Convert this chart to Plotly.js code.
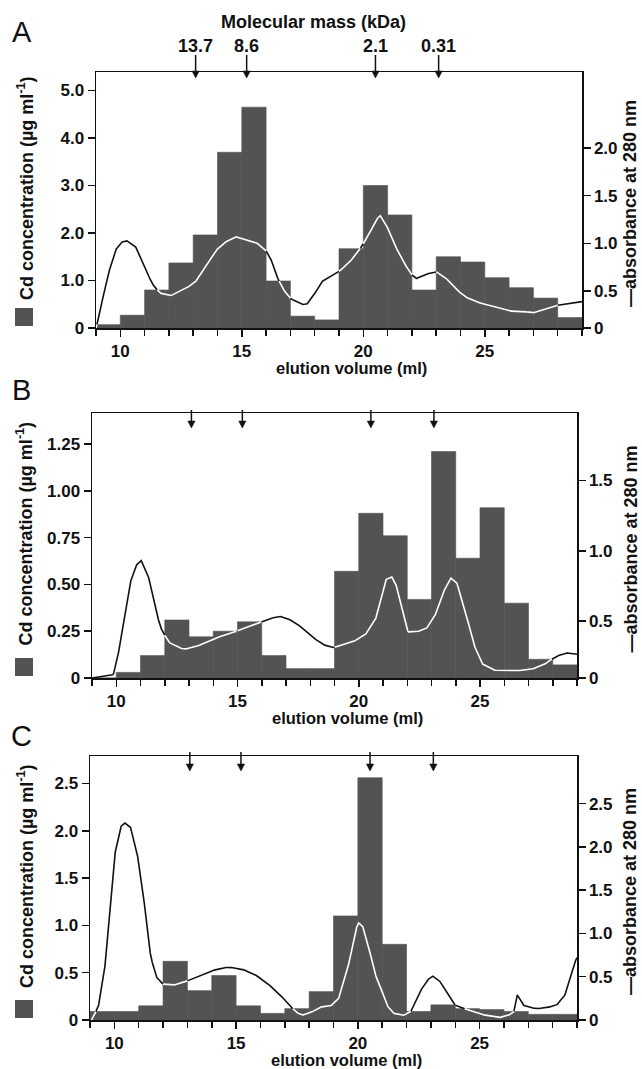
<!DOCTYPE html>
<html>
<head>
<meta charset="utf-8">
<script src="https://cdn.plot.ly/plotly-3.0.1.min.js"></script>
<style>html,body{margin:0;padding:0;background:#fff;}#chart{width:642px;height:1069px;}</style>
</head>
<body>
<div id="chart"></div>
<script>
// ---------------- DATA ----------------
const binCenters = [9.5,10.5,11.5,12.5,13.5,14.5,15.5,16.5,17.5,18.5,19.5,20.5,21.5,22.5,23.5,24.5,25.5,26.5,27.5,28.5];

const cdA = [0.07,0.27,0.80,1.37,1.96,3.70,4.65,0.99,0.25,0.17,1.67,3.00,2.38,0.80,1.50,1.39,1.06,0.85,0.63,0.22];
const cdB = [0.00,0.03,0.12,0.31,0.22,0.25,0.30,0.12,0.05,0.05,0.57,0.88,0.76,0.42,1.21,0.64,0.91,0.40,0.10,0.07];
const cdC = [0.09,0.09,0.15,0.62,0.31,0.47,0.15,0.07,0.12,0.30,1.10,2.56,0.80,0.09,0.16,0.12,0.11,0.09,0.06,0.06];

const absA_x = [9.0,9.19,9.44,9.78,10.03,10.25,10.62,10.96,11.30,11.63,12.06,12.65,13.07,13.49,13.91,14.30,14.75,15.17,15.59,15.98,16.18,16.38,16.69,17.02,17.45,17.67,17.95,18.29,18.63,19.02,19.39,19.81,20.23,20.53,20.70,20.94,21.24,21.66,22.00,22.17,22.59,23.01,23.35,23.77,24.19,24.61,25.03,25.54,26.04,26.55,26.97,27.48,27.98,28.49,29.0];
const absA_y = [0.11,0.31,0.62,0.92,1.01,1.03,0.97,0.79,0.58,0.48,0.45,0.52,0.59,0.74,0.92,1.01,1.07,1.04,1.01,0.93,0.85,0.69,0.52,0.42,0.36,0.36,0.45,0.60,0.65,0.71,0.79,0.92,1.09,1.25,1.29,1.20,1.01,0.80,0.67,0.63,0.68,0.70,0.65,0.53,0.44,0.39,0.36,0.32,0.29,0.29,0.27,0.31,0.35,0.37,0.39];

const absB_x = [9.0,9.62,9.88,10.05,10.30,10.55,10.81,11.03,11.31,11.56,11.82,12.16,12.58,12.83,13.25,13.76,14.27,14.77,15.28,15.78,16.29,16.71,17.05,17.47,17.98,18.49,18.91,19.33,19.84,20.26,20.68,20.93,21.10,21.35,21.52,21.78,22.03,22.37,22.79,23.13,23.46,23.80,24.05,24.39,24.73,25.07,25.57,26.42,27.09,27.60,28.10,28.53,29.0];
const absB_y = [0.095,0.108,0.120,0.230,0.495,0.760,0.895,0.930,0.830,0.630,0.455,0.350,0.310,0.300,0.315,0.355,0.390,0.415,0.450,0.480,0.515,0.535,0.520,0.480,0.400,0.335,0.310,0.330,0.360,0.400,0.507,0.650,0.793,0.817,0.769,0.602,0.423,0.423,0.447,0.531,0.698,0.805,0.769,0.579,0.340,0.198,0.150,0.145,0.155,0.186,0.245,0.274,0.264];

const absC_x = [9.06,9.34,9.59,9.78,10.0,10.25,10.41,10.66,10.91,11.16,11.33,11.49,11.71,11.99,12.40,12.90,13.40,13.90,14.39,14.72,15.22,15.72,16.22,16.71,17.13,17.46,17.71,18.04,18.45,18.87,19.20,19.45,19.70,19.90,20.03,20.19,20.44,20.69,20.94,21.19,21.44,21.85,22.18,22.51,22.85,23.06,23.34,23.67,24.0,24.5,25.0,25.5,25.83,26.16,26.40,26.55,26.65,26.80,27.0,27.32,27.74,28.15,28.48,28.73,28.85,29.0];
const absC_y = [0.0,0.15,0.54,1.19,1.89,2.23,2.28,2.23,1.97,1.53,1.09,0.74,0.50,0.415,0.40,0.44,0.50,0.56,0.60,0.61,0.59,0.535,0.44,0.32,0.19,0.09,0.055,0.08,0.15,0.16,0.24,0.46,0.73,1.04,1.12,1.09,0.85,0.54,0.38,0.17,0.08,0.05,0.10,0.31,0.46,0.51,0.46,0.31,0.17,0.12,0.07,0.04,0.03,0.05,0.09,0.29,0.24,0.17,0.15,0.13,0.14,0.17,0.27,0.50,0.63,0.72];

const markerVolumes = [13.1, 15.2, 20.5, 23.1];
const markerMasses = ['13.7', '8.6', '2.1', '0.31'];

const xTickVals = [10, 15, 20, 25];
const leftTickValsA = [0, 1, 2, 3, 4, 5];
const leftTickTextA = ['0', '1.0', '2.0', '3.0', '4.0', '5.0'];
const leftTickValsB = [0, 0.25, 0.5, 0.75, 1.0, 1.25];
const leftTickTextB = ['0', '0.25', '0.50', '0.75', '1.00', '1.25'];
const leftTickValsC = [0, 0.5, 1.0, 1.5, 2.0, 2.5];
const leftTickTextC = ['0', '0.5', '1.0', '1.5', '2.0', '2.5'];
const rightTickValsA = [0.113, 0.5, 1.0, 1.5, 2.0];
const rightTickTextA = ['0', '0.5', '1.0', '1.5', '2.0'];
const rightTickValsB = [0.095, 0.5, 1.0, 1.5];
const rightTickTextB = ['0', '0.5', '1.0', '1.5'];
const rightTickValsC = [0, 0.5, 1.0, 1.5, 2.0, 2.5];
const rightTickTextC = ['0', '0.5', '1.0', '1.5', '2.0', '2.5'];

const panelLetters = ['A', 'B', 'C'];

// ---------------- LAYOUT GEOMETRY (pixels) ----------------
const W = 642, H = 1069;
const FONT = 'Liberation Sans, Arial, Helvetica, sans-serif';
const BAR_COLOR = '#535353';
const INK = '#111';

const panels = [
  {cd: cdA, ax: absA_x, ay: absA_y, left: 96, right: 582, top: 72, bottom: 328,
   lRange: [0, 5.39], rRange: [0.113, 2.797],
   lVals: leftTickValsA, lText: leftTickTextA, rVals: rightTickValsA, rText: rightTickTextA,
   letterY: 32, arrowTail: 55, arrowTip: 78, xTitleY: 368},
  {cd: cdB, ax: absB_x, ay: absB_y, left: 92, right: 577, top: 413, bottom: 678,
   lRange: [0, 1.416], rRange: [0.095, 1.98],
   lVals: leftTickValsB, lText: leftTickTextB, rVals: rightTickValsB, rText: rightTickTextB,
   letterY: 390, arrowTail: 410, arrowTip: 428, xTitleY: 718},
  {cd: cdC, ax: absC_x, ay: absC_y, left: 90, right: 577, top: 756, bottom: 1020,
   lRange: [0, 2.79], rRange: [0, 3.05],
   lVals: leftTickValsC, lText: leftTickTextC, rVals: rightTickValsC, rText: rightTickTextC,
   letterY: 736, arrowTail: 752, arrowTip: 771, xTitleY: 1060}
];

const px2x = p => p / W;
const px2y = p => 1 - p / H;

// split absorbance line into black (outside bars) and white (over bars) runs
function splitLine(xs, ys, bars, rRange, lRange) {
  const toL = r => lRange[0] + (r - rRange[0]) / (rRange[1] - rRange[0]) * (lRange[1] - lRange[0]);
  const barAt = x => {
    for (let i = 0; i < binCenters.length; i++) {
      if (x >= binCenters[i] - 0.5 && x < binCenters[i] + 0.5) return bars[i];
    }
    return 0;
  };
  const N = 40;
  const runs = [];
  let cur = null;
  for (let i = 0; i < xs.length - 1; i++) {
    for (let k = 0; k < N; k++) {
      const t0 = k / N, t1 = (k + 1) / N;
      const xa = xs[i] + (xs[i + 1] - xs[i]) * t0, ya = ys[i] + (ys[i + 1] - ys[i]) * t0;
      const xb = xs[i] + (xs[i + 1] - xs[i]) * t1, yb = ys[i] + (ys[i + 1] - ys[i]) * t1;
      const xm = (xa + xb) / 2, ym = (ya + yb) / 2;
      const inside = toL(ym) < barAt(xm);
      if (!cur || cur.inside !== inside) {
        if (cur) runs.push(cur);
        cur = {inside: inside, x: [xa], y: [ya]};
      }
      cur.x.push(xb); cur.y.push(yb);
    }
  }
  if (cur) runs.push(cur);
  const black = {x: [], y: []}, white = {x: [], y: []};
  runs.forEach(r => {
    const t = r.inside ? white : black;
    if (t.x.length) { t.x.push(null); t.y.push(null); }
    t.x.push(...r.x); t.y.push(...r.y);
  });
  return {black, white};
}

const data = [];
const layout = {
  width: W, height: H,
  margin: {l: 0, r: 0, t: 0, b: 0, pad: 0},
  paper_bgcolor: '#fff', plot_bgcolor: '#fff',
  showlegend: false,
  bargap: 0,
  font: {family: FONT, size: 17, color: INK, weight: 'bold'},
  annotations: [],
  shapes: []
};

const axisFont = {family: FONT, size: 17, color: INK, weight: 'bold'};
const titleFont = {family: FONT, size: 18, color: INK, weight: 'bold'};
const xTitleFont = {family: FONT, size: 16.5, color: INK, weight: 'bold'};

panels.forEach((p, i) => {
  const n = i + 1;
  const xa = 'x' + (n === 1 ? '' : n);
  const yl = 'y' + (n === 1 ? '' : n);
  const yr = 'y' + (n + 3);
  const xDom = [px2x(p.left), px2x(p.right)];
  const yDom = [px2y(p.bottom), px2y(p.top)];

  layout['xaxis' + (n === 1 ? '' : n)] = {
    domain: xDom, range: [9, 29], anchor: yl,
    tickvals: xTickVals, ticks: 'outside', ticklen: 7, tickwidth: 1.5, tickcolor: INK,
    minor: {dtick: 1, tick0: 9, ticks: 'outside', ticklen: 6, tickwidth: 1.5, tickcolor: INK},
    showline: true, linecolor: INK, linewidth: 1.5, mirror: true,
    showgrid: false, zeroline: false, tickfont: axisFont, fixedrange: true
  };
  layout['yaxis' + (n === 1 ? '' : n)] = {
    domain: yDom, range: p.lRange, anchor: xa,
    tickvals: p.lVals, ticktext: p.lText,
    ticks: 'outside', ticklen: 7, tickwidth: 1.5, tickcolor: INK,
    showline: true, linecolor: INK, linewidth: 1.5,
    showgrid: false, zeroline: false, tickfont: axisFont, fixedrange: true
  };
  layout['yaxis' + (n + 3)] = {
    overlaying: yl, side: 'right', anchor: xa, range: p.rRange,
    tickvals: p.rVals, ticktext: p.rText,
    ticks: 'outside', ticklen: 7, tickwidth: 1.5, tickcolor: INK,
    showline: true, linecolor: INK, linewidth: 1.5,
    showgrid: false, zeroline: false, tickfont: axisFont, fixedrange: true
  };

  data.push({
    type: 'bar', x: binCenters, y: p.cd, width: 1, xaxis: xa, yaxis: yl,
    marker: {color: BAR_COLOR, line: {color: BAR_COLOR, width: 0.6}},
    hoverinfo: 'skip'
  });
  const parts = splitLine(p.ax, p.ay, p.cd, p.rRange, p.lRange);
  data.push({type: 'scatter', mode: 'lines', x: parts.black.x, y: parts.black.y,
    xaxis: xa, yaxis: yr, line: {color: INK, width: 1.6}, connectgaps: false, hoverinfo: 'skip'});
  data.push({type: 'scatter', mode: 'lines', x: parts.white.x, y: parts.white.y,
    xaxis: xa, yaxis: yr, line: {color: '#ffffff', width: 1.6}, connectgaps: false, hoverinfo: 'skip'});

  // panel letter
  layout.annotations.push({text: panelLetters[i], xref: 'paper', yref: 'paper',
    x: px2x(22), y: px2y(p.letterY), xanchor: 'center', yanchor: 'middle', showarrow: false,
    font: {family: FONT, size: 29, color: INK, weight: 'normal'}});

  // molecular mass arrows (line + triangular head)
  const headH = 7, headHalf = 0.15;
  markerVolumes.forEach((v, j) => {
    layout.shapes.push({type: 'line', xref: xa, yref: 'paper',
      x0: v, x1: v, y0: px2y(p.arrowTail), y1: px2y(p.arrowTip - headH + 1),
      line: {color: INK, width: 1.5}});
    layout.shapes.push({type: 'path', xref: xa, yref: 'paper',
      path: 'M ' + (v - headHalf) + ',' + px2y(p.arrowTip - headH) +
            ' L ' + (v + headHalf) + ',' + px2y(p.arrowTip - headH) +
            ' L ' + v + ',' + px2y(p.arrowTip) + ' Z',
      fillcolor: INK, line: {color: INK, width: 0.5}});
    if (i === 0) {
      layout.annotations.push({text: markerMasses[j], x: v, xref: xa, y: px2y(46), yref: 'paper',
        xanchor: 'center', yanchor: 'middle', showarrow: false,
        font: {family: FONT, size: 18, color: INK, weight: 'bold'}});
    }
  });

  // y titles
  const yMid = (p.top + p.bottom) / 2;
  layout.annotations.push({text: 'Cd concentration (µg ml<sup>-1</sup>)', xref: 'paper', yref: 'paper',
    x: px2x(25), y: px2y(yMid - 12), xanchor: 'center', yanchor: 'middle', textangle: -90,
    showarrow: false, font: titleFont});
  layout.shapes.push({type: 'rect', xref: 'paper', yref: 'paper',
    x0: px2x(15), x1: px2x(33), y0: px2y(p.bottom - 2), y1: px2y(p.bottom - 20),
    fillcolor: BAR_COLOR, line: {width: 0}});
  layout.annotations.push({text: '—absorbance at 280 nm', xref: 'paper', yref: 'paper',
    x: px2x(630), y: px2y(yMid + 4), xanchor: 'center', yanchor: 'middle', textangle: -90,
    showarrow: false, font: titleFont});

  // x title
  layout.annotations.push({text: 'elution volume (ml)', xref: 'paper', yref: 'paper',
    x: px2x((p.left + p.right) / 2 + 13), y: px2y(p.xTitleY), xanchor: 'center', yanchor: 'middle',
    showarrow: false, font: xTitleFont});
});

layout.annotations.push({text: 'Molecular mass (kDa)', xref: 'paper', yref: 'paper',
  x: px2x(313), y: px2y(22), xanchor: 'center', yanchor: 'middle', showarrow: false,
  font: titleFont});

Plotly.newPlot('chart', data, layout, {staticPlot: true, displayModeBar: false});
</script>
</body>
</html>
